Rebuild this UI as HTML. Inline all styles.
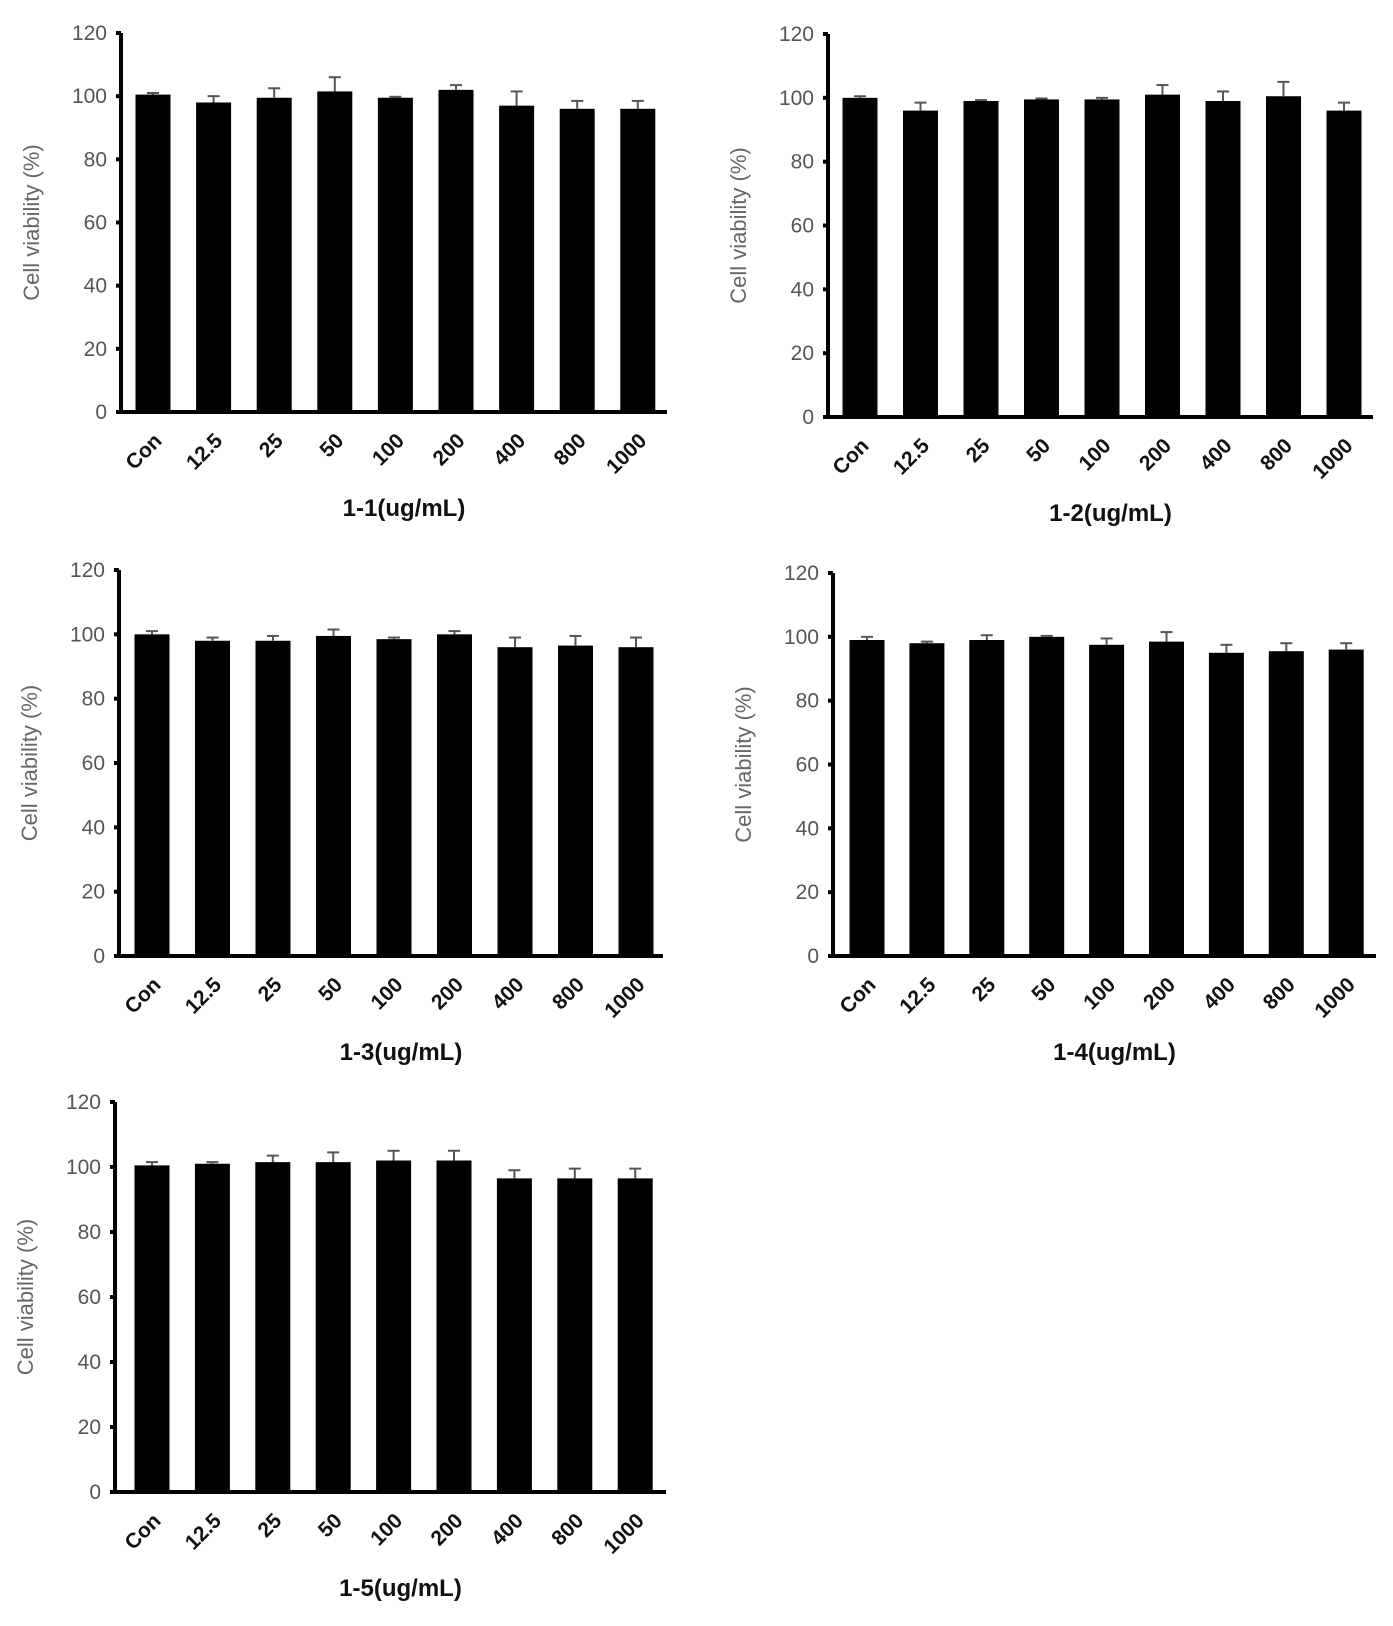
<!DOCTYPE html>
<html><head><meta charset="utf-8"><style>
body{margin:0;background:#fff;}
svg{display:block;}
.tk{font-family:"Liberation Sans",sans-serif;font-size:21px;fill:#555;}
.yt{font-family:"Liberation Sans",sans-serif;font-size:22px;fill:#666;}
.xl{font-family:"Liberation Sans",sans-serif;font-size:21px;font-weight:bold;fill:#111;}
.ti{font-family:"Liberation Sans",sans-serif;font-size:24px;font-weight:bold;fill:#111;}
</style></head><body>
<svg id="fig" width="1393" height="1626" viewBox="0 0 1393 1626" xmlns="http://www.w3.org/2000/svg"></svg>
<script>
const categories = ["Con","12.5","25","50","100","200","400","800","1000"];
const yTicks = [0,20,40,60,80,100,120];
const titles = ["1-1(ug/mL)","1-2(ug/mL)","1-3(ug/mL)","1-4(ug/mL)","1-5(ug/mL)"];
const means1 = [100.5,98,99.5,101.5,99.5,102,97,96,96];
const errs1  = [0.5,2,3,4.5,0.3,1.5,4.5,2.5,2.5];
const means2 = [100,96,99,99.5,99.5,101,99,100.5,96];
const errs2  = [0.5,2.5,0.3,0.3,0.5,3,3,4.5,2.5];
const means3 = [100,98,98,99.5,98.5,100,96,96.5,96];
const errs3  = [1,1,1.5,2,0.5,1,3,3,3];
const means4 = [99,98,99,100,97.5,98.5,95,95.5,96];
const errs4  = [1,0.5,1.5,0.3,2,3,2.5,2.5,2];
const means5 = [100.5,101,101.5,101.5,102,102,96.5,96.5,96.5];
const errs5  = [1,0.5,2,3,3,3,2.5,3,3];

const NS="http://www.w3.org/2000/svg";
const fig=document.getElementById('fig');
function mk(tag,attrs,parent){const e=document.createElementNS(NS,tag);for(const k in attrs)e.setAttribute(k,attrs[k]);(parent||fig).appendChild(e);return e;}

const panels=[
 {ax:121,y0:412,y120:33,xend:667,first:153,pitch:60.6,m:means1,e:errs1},
 {ax:828,y0:417,y120:34,xend:1373,first:860,pitch:60.5,m:means2,e:errs2},
 {ax:119,y0:956,y120:570,xend:663,first:152,pitch:60.5,m:means3,e:errs3},
 {ax:833,y0:956,y120:573,xend:1376,first:867,pitch:59.9,m:means4,e:errs4},
 {ax:115,y0:1492,y120:1102,xend:666,first:152,pitch:60.4,m:means5,e:errs5}
];
panels.forEach((p,pi)=>{
  const g=mk('g',{});
  
  
  const y=v=>p.y0-(v/120)*(p.y0-p.y120);
  const x=i=>p.first+i*p.pitch;
  const bw=35;
  // bars + error bars
  p.m.forEach((v,i)=>{
    const top=y(v+p.e[i]);
    const eb=mk('g',{},g);
    
    
    mk('line',{x1:x(i),x2:x(i),y1:top,y2:y(v),stroke:'#555','stroke-width':2},eb);
    mk('line',{x1:x(i)-6,x2:x(i)+6,y1:top,y2:top,stroke:'#555','stroke-width':2},eb);
    const r=mk('rect',{x:x(i)-bw/2,y:y(v),width:bw,height:p.y0-y(v),fill:'#000'},g);
    
    
    const t=mk('text',{class:'xl','text-anchor':'end',transform:`translate(${x(i)+10},${p.y0+30}) rotate(-45)`},g);
    t.textContent=categories[i];
    
    
  });
  // axes
  const ya=mk('line',{x1:p.ax,x2:p.ax,y1:p.y120,y2:p.y0+2,stroke:'#000','stroke-width':4},g);
  
  
  const xa=mk('line',{x1:p.ax-2,x2:p.xend,y1:p.y0,y2:p.y0,stroke:'#000','stroke-width':4},g);
  
  
  yTicks.forEach(v=>{
    mk('line',{x1:p.ax-5,x2:p.ax,y1:y(v),y2:y(v),stroke:'#000','stroke-width':4},g);
    const t=mk('text',{class:'tk',x:p.ax-14,y:y(v)+7,'text-anchor':'end'},g);
    t.textContent=v;
    
    
  });
  const yt=mk('text',{class:'yt','text-anchor':'middle',transform:`translate(${p.ax-82},${(p.y0+p.y120)/2}) rotate(-90)`},g);
  yt.textContent='Cell viability (%)';
  
  
  const ti=mk('text',{class:'ti','text-anchor':'middle',x:(p.ax+p.xend)/2+10,y:p.y0+104},g);
  ti.textContent=titles[pi];
  
  
});
</script>
</body></html>
